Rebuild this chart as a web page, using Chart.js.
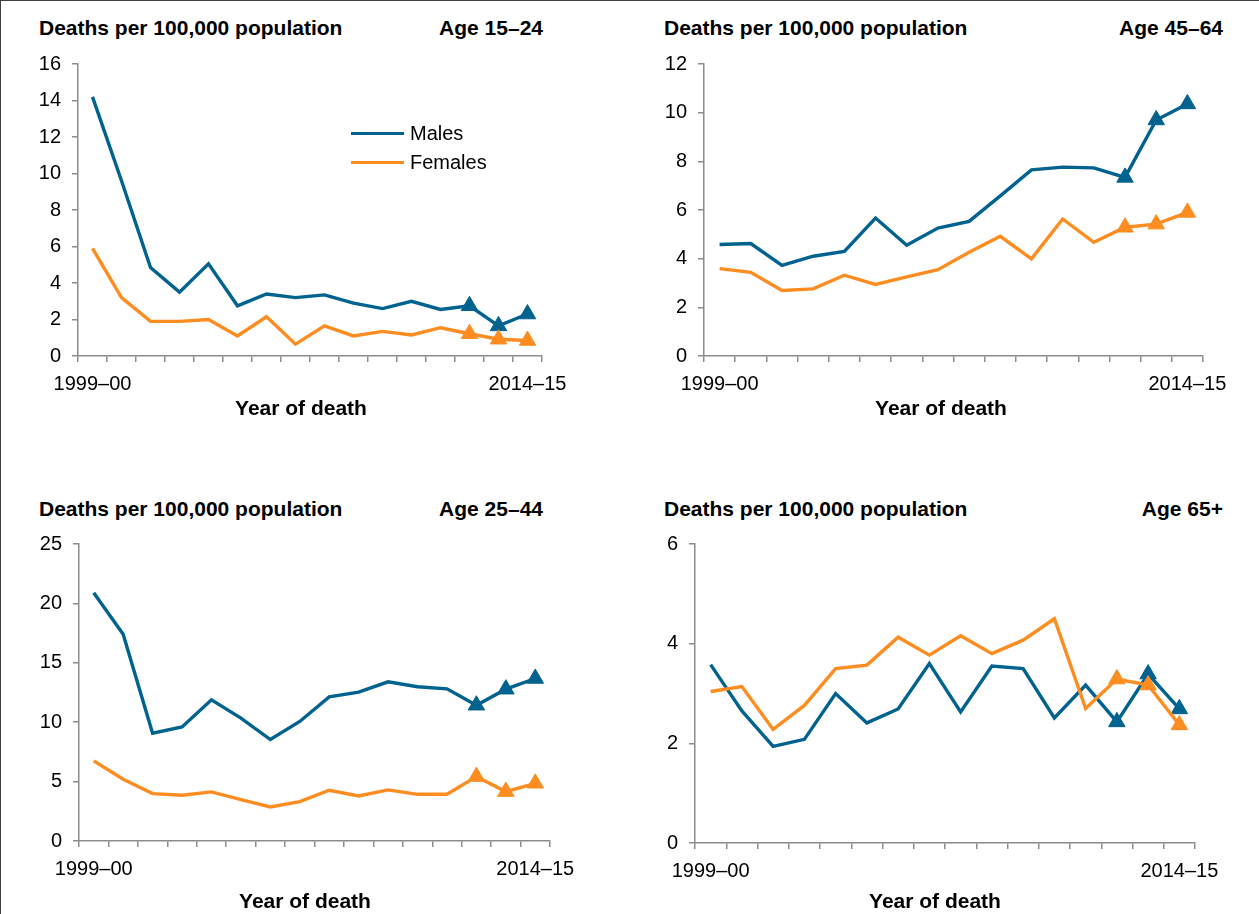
<!DOCTYPE html>
<html lang="en">
<head>
<meta charset="utf-8">
<title>Deaths per 100,000 population by age group</title>
<script src="https://cdn.jsdelivr.net/npm/chart.js@4.4.1/dist/chart.umd.min.js"></script>
<style>
    body { margin: 0; background: #fff; }
    #page {
        position: relative;
        width: 1259px;
        height: 914px;
        box-sizing: border-box;
        border-top: 1px solid #404040;
        border-left: 1px solid #404040;
        overflow: hidden;
        font-family: 'Liberation Sans', Arial, sans-serif;
        color: #000;
    }
    canvas { position: absolute; }
    .head {
        position: absolute;
        font-size: 21px;
        font-weight: bold;
        line-height: 24px;
        white-space: nowrap;
    }
    .xtitle {
        position: absolute;
        width: 300px;
        text-align: center;
        font-size: 21px;
        font-weight: bold;
        line-height: 24px;
    }
    .legend-line { position: absolute; width: 53px; height: 3px; }
    .legend-text { position: absolute; font-size: 20px; line-height: 24px; }
</style>
</head>
<body>
<div id="page">
    <!-- 左上: 15–24 -->
    <div class="head" style="left:38px; top:15px;">Deaths per 100,000 population</div>
    <div class="head" style="right:716px; top:15px;">Age 15–24</div>
    <canvas id="chart1524" width="620" height="400" style="left:0; top:40px;"></canvas>
    <div class="xtitle" style="left:150px; top:395px;">Year of death</div>
    <div class="legend-line" style="left:350px; top:131px; background:#00628f;"></div>
    <div class="legend-text" style="left:409px; top:120px;">Males</div>
    <div class="legend-line" style="left:350px; top:160px; background:#fd8d21;"></div>
    <div class="legend-text" style="left:409px; top:149px;">Females</div>

    <!-- 右上: 45–64 -->
    <div class="head" style="left:663px; top:15px;">Deaths per 100,000 population</div>
    <div class="head" style="right:36px; top:15px;">Age 45–64</div>
    <canvas id="chart4564" width="620" height="400" style="left:630px; top:40px;"></canvas>
    <div class="xtitle" style="left:790px; top:395px;">Year of death</div>

    <!-- 左下: 25–44 -->
    <div class="head" style="left:38px; top:496px;">Deaths per 100,000 population</div>
    <div class="head" style="right:716px; top:496px;">Age 25–44</div>
    <canvas id="chart2544" width="620" height="394" style="left:0; top:520px;"></canvas>
    <div class="xtitle" style="left:154px; top:888px;">Year of death</div>

    <!-- 右下: 65+ -->
    <div class="head" style="left:663px; top:496px;">Deaths per 100,000 population</div>
    <div class="head" style="right:36px; top:496px;">Age 65+</div>
    <canvas id="chart65" width="620" height="394" style="left:630px; top:520px;"></canvas>
    <div class="xtitle" style="left:784px; top:888px;">Year of death</div>
</div>

<script>
// 年度ラベル
const years = ['1999–00', '2000–01', '2001–02', '2002–03', '2003–04', '2004–05', '2005–06', '2006–07',
    '2007–08', '2008–09', '2009–10', '2010–11', '2011–12', '2012–13', '2013–14', '2014–15'];

// 年齢別データ (男性 / 女性)
const males15to24 = [14.2, 9.6, 4.85, 3.5, 5.05, 2.75, 3.4, 3.2, 3.35, 2.9, 2.6, 3.0, 2.55, 2.75, 1.65, 2.3];
const females15to24 = [5.9, 3.2, 1.9, 1.9, 2.0, 1.1, 2.15, 0.65, 1.65, 1.1, 1.35, 1.15, 1.55, 1.22, 0.92, 0.85];

const males45to64 = [4.58, 4.62, 3.72, 4.1, 4.3, 5.67, 4.55, 5.26, 5.53, 6.58, 7.65, 7.76, 7.73, 7.34, 9.7, 10.36];
const females45to64 = [3.59, 3.44, 2.69, 2.76, 3.32, 2.94, 3.25, 3.55, 4.26, 4.92, 3.99, 5.63, 4.67, 5.29, 5.42, 5.9];

const males25to44 = [20.9, 17.4, 9.07, 9.6, 11.88, 10.34, 8.54, 10.06, 12.13, 12.53, 13.4, 12.98, 12.81, 11.43, 12.78, 13.68];
const females25to44 = [6.74, 5.2, 3.99, 3.85, 4.13, 3.48, 2.87, 3.31, 4.27, 3.79, 4.3, 3.93, 3.93, 5.42, 4.16, 4.86];

const males65plus = [3.58, 2.65, 1.94, 2.08, 3.0, 2.41, 2.69, 3.6, 2.63, 3.55, 3.5, 2.51, 3.17, 2.43, 3.39, 2.69];
const females65plus = [3.04, 3.14, 2.28, 2.76, 3.5, 3.57, 4.13, 3.77, 4.16, 3.8, 4.07, 4.5, 2.7, 3.29, 3.17, 2.37];

// y軸の目盛り
const yTicks1524 = { max: 16, step: 2 };
const yTicks4564 = { max: 12, step: 2 };
const yTicks2544 = { max: 25, step: 5 };
const yTicks65 = { max: 6, step: 2 };

// 色とフォント
const MALE_COLOR = '#00628f';
const FEMALE_COLOR = '#fd8d21';
const AXIS_COLOR = '#8c8c8c';
const FONT_FAMILY = "'Liberation Sans', Arial, sans-serif";
const FIRST_TRIANGLE = 13; // 2012–13以降は三角マーカー

const lineDataset = (label, data, color, order) => ({
    label,
    data,
    order,
    borderColor: color,
    backgroundColor: color,
    borderWidth: 3.4,
    tension: 0,
    pointStyle: 'triangle',
    pointRadius: (ctx) => ctx.dataIndex >= FIRST_TRIANGLE ? 9.5 : 0,
    pointHoverRadius: (ctx) => ctx.dataIndex >= FIRST_TRIANGLE ? 9.5 : 0,
    pointBorderWidth: 1,
    pointBorderColor: color,
    pointBackgroundColor: color
});

// パネル作成
const createPanel = (canvasId, males, females, yTicks, box) => {
    const ctx = document.getElementById(canvasId).getContext('2d');
    const lastIndex = years.length - 1;
    return new Chart(ctx, {
        type: 'line',
        data: {
            labels: years,
            datasets: [
                lineDataset('Males', males, MALE_COLOR, 1),
                lineDataset('Females', females, FEMALE_COLOR, 0)
            ]
        },
        options: {
            responsive: false,
            animation: false,
            devicePixelRatio: 1,
            layout: {
                padding: { left: 0, top: box.padTop, right: box.padRight, bottom: 0 }
            },
            plugins: {
                legend: { display: false },
                tooltip: { enabled: false },
                title: { display: false }
            },
            scales: {
                x: {
                    type: 'category',
                    offset: true,
                    afterFit: (scale) => { scale.height = box.xHeight; },
                    grid: {
                        offset: true,
                        drawOnChartArea: false,
                        drawTicks: true,
                        tickLength: 6,
                        color: AXIS_COLOR,
                        lineWidth: 1.5
                    },
                    border: { color: AXIS_COLOR, width: 1.5 },
                    ticks: {
                        autoSkip: false,
                        maxRotation: 0,
                        padding: 10,
                        color: '#000',
                        font: { family: FONT_FAMILY, size: 20 },
                        callback: (value, index) => (index === 0 || index === lastIndex) ? years[index] : ''
                    }
                },
                y: {
                    min: 0,
                    max: yTicks.max,
                    afterFit: (scale) => { scale.width = box.yWidth; },
                    grid: {
                        drawOnChartArea: false,
                        drawTicks: true,
                        tickLength: 6,
                        color: AXIS_COLOR,
                        lineWidth: 1.5
                    },
                    border: { color: AXIS_COLOR, width: 1.5 },
                    ticks: {
                        stepSize: yTicks.step,
                        padding: 11,
                        color: '#000',
                        font: { family: FONT_FAMILY, size: 20 }
                    }
                }
            }
        }
    });
};

// ページ読み込み時に実行
document.addEventListener('DOMContentLoaded', () => {
    createPanel('chart1524', males15to24, females15to24, yTicks1524,
        { yWidth: 77, padTop: 22, padRight: 79, xHeight: 85 });
    createPanel('chart4564', males45to64, females45to64, yTicks4564,
        { yWidth: 73, padTop: 22, padRight: 48, xHeight: 85 });
    createPanel('chart2544', males25to44, females25to44, yTicks2544,
        { yWidth: 78, padTop: 23, padRight: 71, xHeight: 74 });
    createPanel('chart65', males65plus, females65plus, yTicks65,
        { yWidth: 64, padTop: 20, padRight: 56, xHeight: 72 });
});
</script>
</body>
</html>
